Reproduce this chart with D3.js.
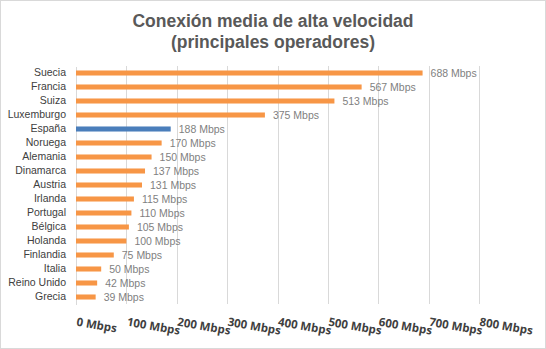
<!DOCTYPE html>
<html>
<head>
<meta charset="utf-8">
<script src="https://cdn.jsdelivr.net/npm/d3@7"></script>
<style>
  body { margin: 0; background: #fff; }
  svg { display: block; }
</style>
</head>
<body>
<div id="chart"></div>
<script>
// data
var countries = ["Suecia", "Francia", "Suiza", "Luxemburgo", "España", "Noruega", "Alemania",
  "Dinamarca", "Austria", "Irlanda", "Portugal", "Bélgica", "Holanda", "Finlandia", "Italia",
  "Reino Unido", "Grecia"];
var speeds = [688, 567, 513, 375, 188, 170, 150, 137, 131, 115, 110, 105, 100, 75, 50, 42, 39];
var highlight = "España";
var xTicks = [0, 100, 200, 300, 400, 500, 600, 700, 800];
var titleLines = ["Conexión media de alta velocidad", "(principales operadores)"];

var width = 546, height = 349;
var margin = {top: 66, right: 67, bottom: 45, left: 76};

var svg = d3.select("#chart").append("svg")
  .attr("width", width)
  .attr("height", height);

// chart border
svg.append("rect")
  .attr("x", 0.5).attr("y", 0.5)
  .attr("width", width - 1).attr("height", height - 1)
  .style("fill", "#fff")
  .style("stroke", "#d9d9d9");

// title
svg.append("g").selectAll("text")
  .data(titleLines)
  .enter().append("text")
  .attr("x", 273)
  .attr("y", function(d, i) { return 27 + i * 21; })
  .attr("text-anchor", "middle")
  .style("font-family", "'Liberation Sans', Arial, sans-serif")
  .style("font-weight", "bold")
  .style("font-size", "17.5px")
  .style("fill", "#595959")
  .text(function(d) { return d; });

var x = d3.scaleLinear().domain([0, 800]).range([margin.left, width - margin.right]);
var y = d3.scaleBand().domain(countries)
  .range([margin.top, height - margin.bottom])
  .paddingInner(0.64).paddingOuter(0.32);

// vertical gridlines
svg.append("g")
  .attr("class", "grid")
  .attr("transform", "translate(0," + (height - margin.bottom) + ")")
  .call(d3.axisBottom(x).tickValues(xTicks.slice(1))
    .tickSize(-(height - margin.top - margin.bottom))
    .tickFormat(""))
  .call(function(g) {
    g.select(".domain").remove();
    g.selectAll("line").style("stroke", "#d9d9d9").style("shape-rendering", "crispEdges");
  });

// x tick labels, rotated
svg.append("g").selectAll("text")
  .data(xTicks)
  .enter().append("text")
  .attr("transform", function(d) { return "translate(" + x(d) + "," + 325.5 + ") rotate(10)"; })
  .style("font-family", "'Open Sans', sans-serif")
  .style("font-weight", "bold")
  .style("font-size", "11.5px")
  .style("fill", "#404040")
  .text(function(d) { return d + " Mbps"; });

// y axis (category labels)
svg.append("g")
  .attr("transform", "translate(" + margin.left + ",0)")
  .call(d3.axisLeft(y).tickSize(0).tickPadding(10))
  .call(function(g) {
    g.select(".domain").style("stroke", "#d9d9d9").style("shape-rendering", "crispEdges");
    g.selectAll("text")
      .style("font-family", "'Liberation Sans', Arial, sans-serif")
      .style("font-size", "10.5px")
      .style("fill", "#404040");
  });

// bars
svg.append("g").selectAll("rect")
  .data(speeds)
  .enter().append("rect")
  .attr("x", x(0))
  .attr("y", function(d, i) { return y(countries[i]); })
  .attr("width", function(d) { return x(d) - x(0); })
  .attr("height", y.bandwidth())
  .style("fill", function(d, i) { return countries[i] === highlight ? "#4a7ebb" : "#f79646"; });

// value labels
svg.append("g").selectAll("text")
  .data(speeds)
  .enter().append("text")
  .attr("x", function(d) { return x(d) + 8; })
  .attr("y", function(d, i) { return y(countries[i]) + y.bandwidth() / 2; })
  .attr("dy", "0.35em")
  .style("font-family", "'Liberation Sans', Arial, sans-serif")
  .style("font-size", "10.5px")
  .style("fill", "#7f7f7f")
  .text(function(d) { return d + " Mbps"; });
</script>
</body>
</html>
